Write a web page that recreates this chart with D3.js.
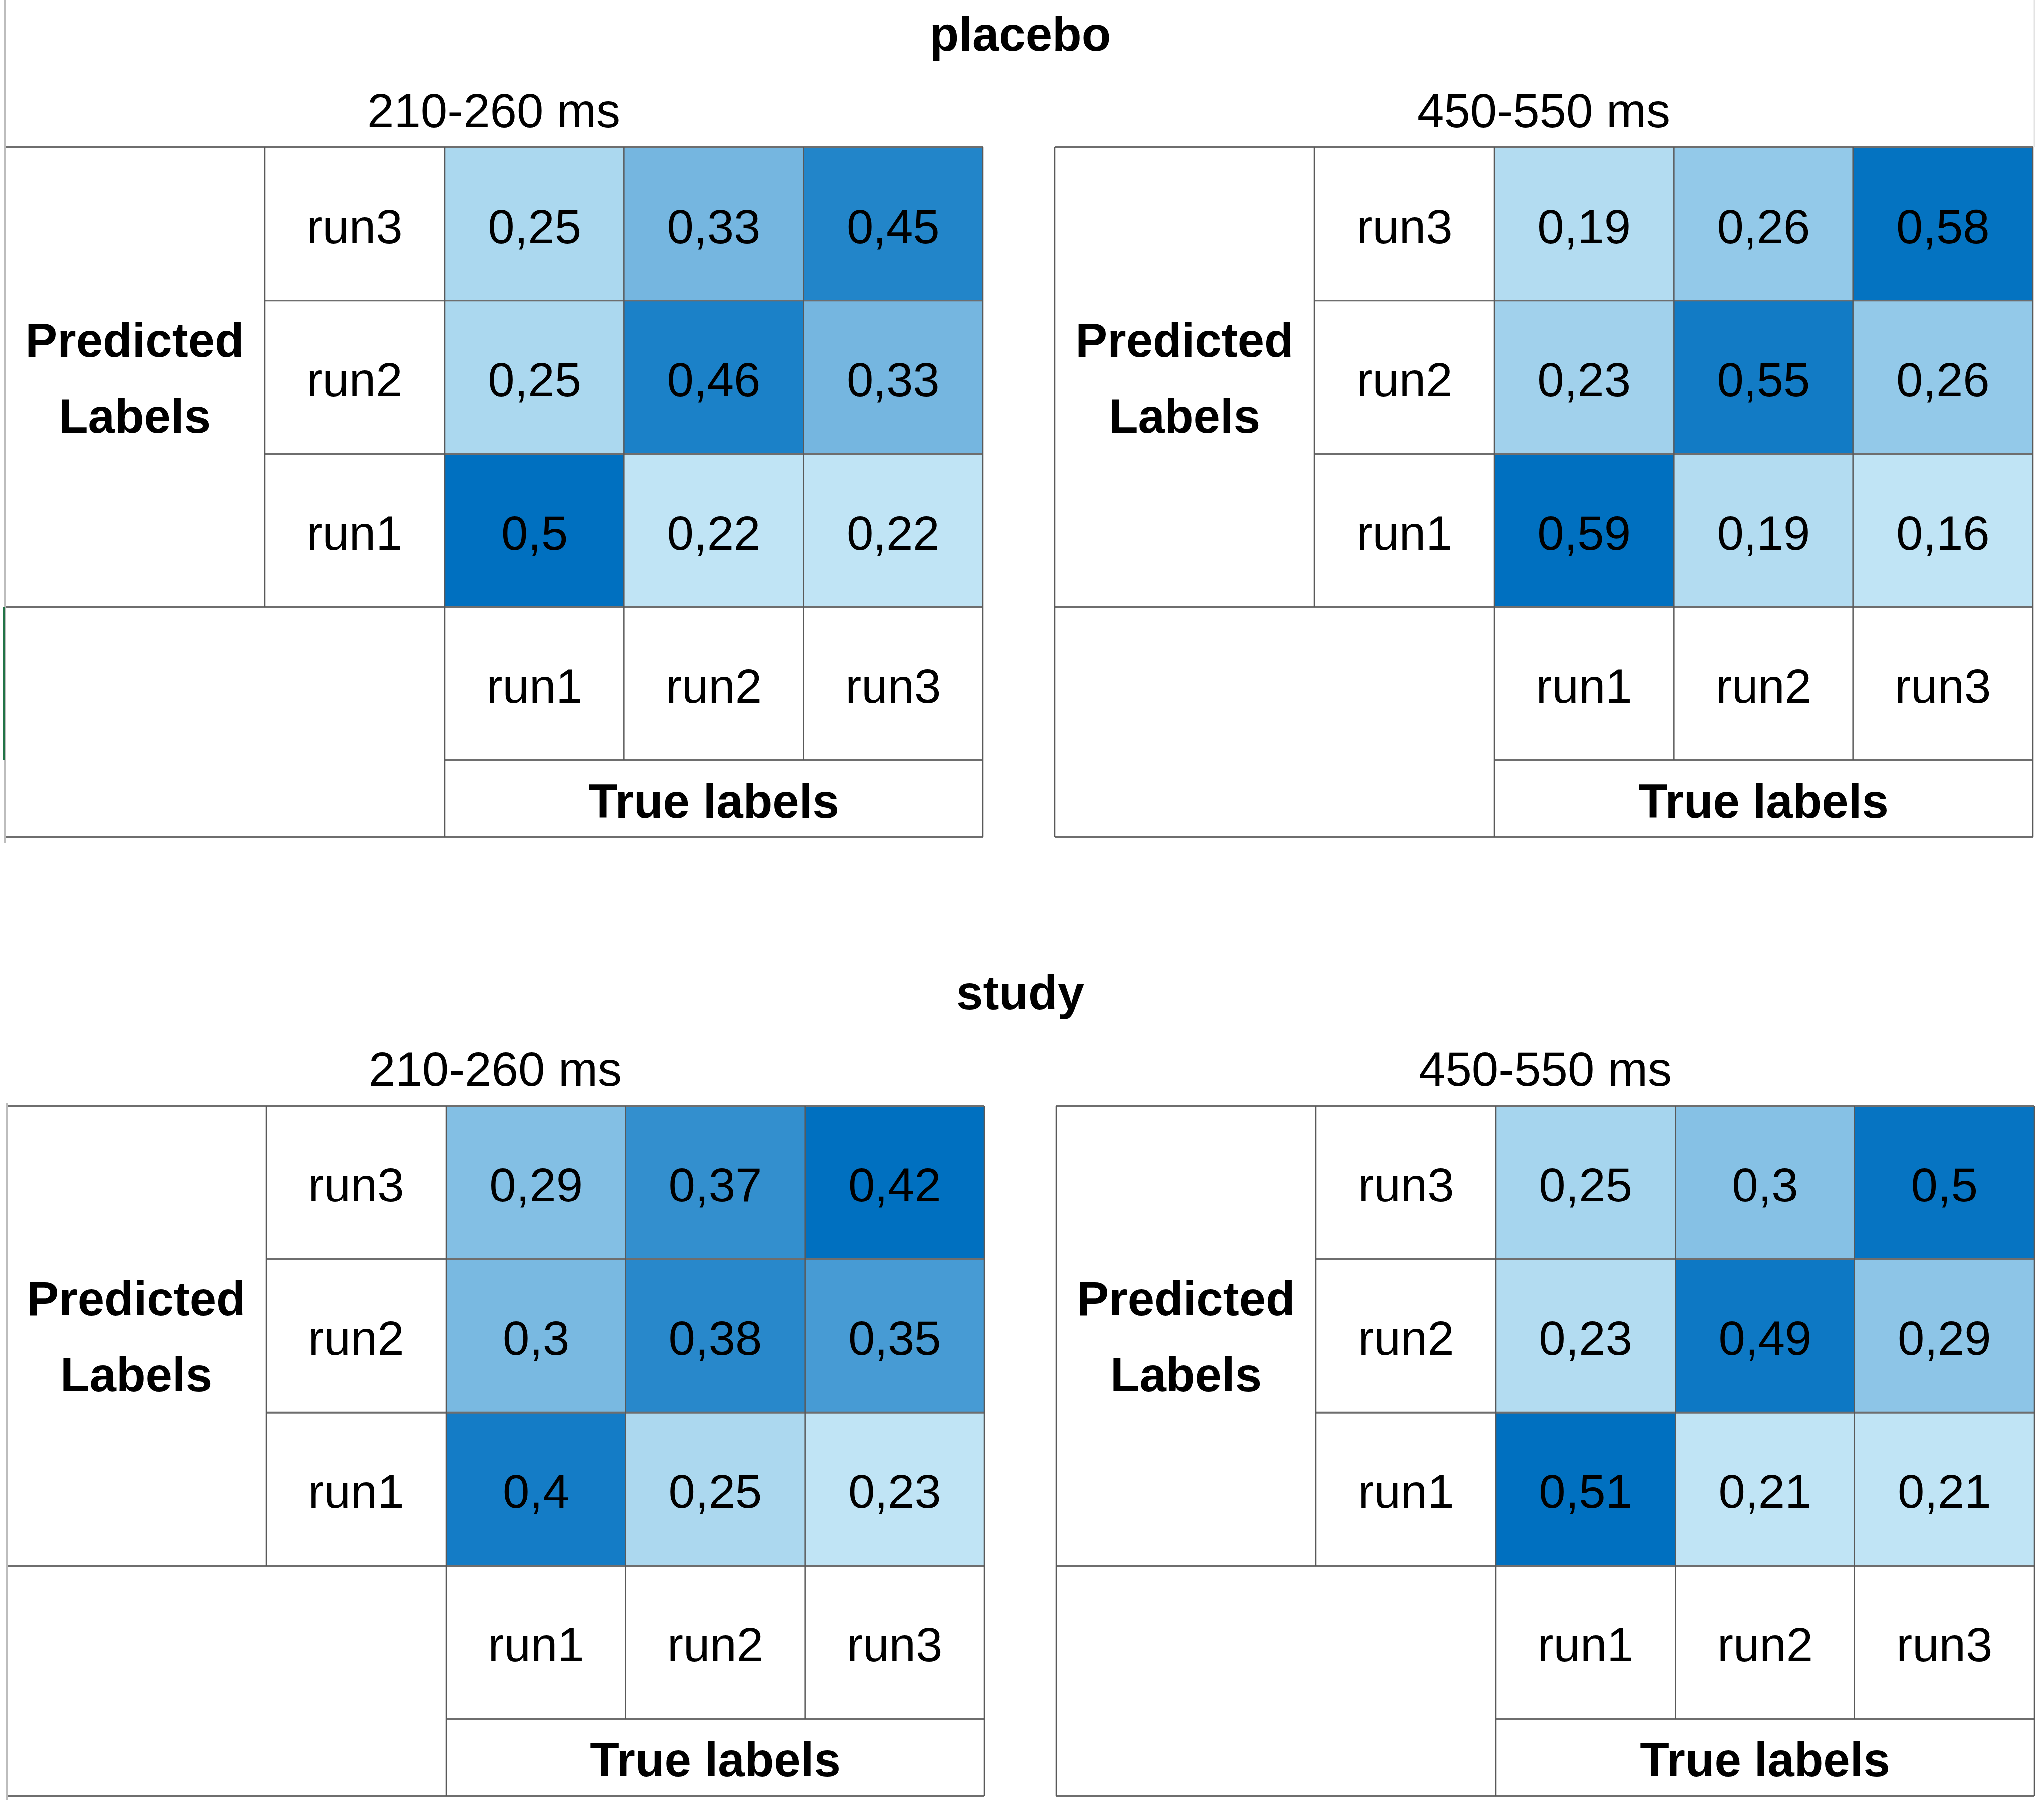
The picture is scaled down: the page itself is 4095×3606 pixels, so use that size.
<!DOCTYPE html>
<html lang="en">
<head>
    <meta charset="UTF-8">
    <script src="https://d3js.org/d3.v7.min.js"></script>
    <title>Confusion matrices: placebo / study</title>
    <style>
        body {
            margin: 0;
            padding: 0;
            background-color: white;
        }
        svg {
            display: block;
            font-family: "Liberation Sans", Arial, sans-serif;
        }
        .cell-text { font-size: 96px; fill: #000; text-anchor: middle; }
        .bold { font-weight: bold; }
    </style>
</head>
<body>
    <svg id="chart" width="4095" height="3606"></svg>
    <script>
        // data
        const groups = ["placebo", "study"];
        const windows = ["210-260 ms", "450-550 ms"];
        const predLabels = ["run3", "run2", "run1"]; // rows, top to bottom
        const trueLabels = ["run1", "run2", "run3"]; // columns, left to right

        const placeboEarly = [
            [0.25, 0.33, 0.45],
            [0.25, 0.46, 0.33],
            [0.5, 0.22, 0.22]
        ];
        const placeboLate = [
            [0.19, 0.26, 0.58],
            [0.23, 0.55, 0.26],
            [0.59, 0.19, 0.16]
        ];
        const studyEarly = [
            [0.29, 0.37, 0.42],
            [0.3, 0.38, 0.35],
            [0.4, 0.25, 0.23]
        ];
        const studyLate = [
            [0.25, 0.3, 0.5],
            [0.23, 0.49, 0.29],
            [0.51, 0.21, 0.21]
        ];

        const matrices = [[placeboEarly, placeboLate], [studyEarly, studyLate]];

        const svg = d3.select("#chart");
        const lineColor = "#595959";
        const fmt = v => String(v).replace(".", ",");

        // panel geometry (px)
        const panelX = [[10, 2113], [13, 2116]];
        const gridTop = [295, 2215];
        const labelColW = 520, runColEnd = 881, gridW = 1959;
        const matrixH = 922, colLabelH = 306, trueLabelH = 154;

        groups.forEach((g, gi) => {
            svg.append("text")
                .attr("class", "cell-text bold")
                .attr("x", 2044)
                .attr("y", gridTop[gi] - 193)
                .text(g);

            windows.forEach((w, wi) => {
                const x0 = panelX[gi][wi];
                const y0 = gridTop[gi];
                const data = matrices[gi][wi];
                const p = svg.append("g").attr("transform", `translate(${x0},${y0})`);

                const x = d3.scaleBand().domain(trueLabels).range([runColEnd, gridW]);
                const y = d3.scaleBand().domain(predLabels).range([0, matrixH]);
                const flat = data.flat();
                const color = d3.scaleLinear()
                    .domain(d3.extent(flat))
                    .range(["#C0E4F5", "#0070C0"])
                    .interpolate(d3.interpolateRgb);

                const cells = [];
                predLabels.forEach((r, ri) => trueLabels.forEach((c, ci) => {
                    cells.push({ r, c, v: data[ri][ci] });
                }));

                p.selectAll("rect.cell")
                    .data(cells)
                    .join("rect")
                    .attr("class", "cell")
                    .attr("x", d => x(d.c))
                    .attr("y", d => y(d.r))
                    .attr("width", x.bandwidth())
                    .attr("height", y.bandwidth())
                    .attr("fill", d => color(d.v));

                p.selectAll("text.val")
                    .data(cells)
                    .join("text")
                    .attr("class", "cell-text val")
                    .attr("x", d => x(d.c) + x.bandwidth() / 2)
                    .attr("y", d => y(d.r) + y.bandwidth() / 2 + 38)
                    .text(d => fmt(d.v));

                // row labels
                p.selectAll("text.rowlab")
                    .data(predLabels)
                    .join("text")
                    .attr("class", "cell-text rowlab")
                    .attr("x", (labelColW + runColEnd) / 2)
                    .attr("y", d => y(d) + y.bandwidth() / 2 + 38)
                    .text(d => d);

                // column labels
                p.selectAll("text.collab")
                    .data(trueLabels)
                    .join("text")
                    .attr("class", "cell-text collab")
                    .attr("x", d => x(d) + x.bandwidth() / 2)
                    .attr("y", matrixH + colLabelH / 2 + 38)
                    .text(d => d);

                p.append("text")
                    .attr("class", "cell-text bold")
                    .attr("x", (runColEnd + gridW) / 2)
                    .attr("y", matrixH + colLabelH + trueLabelH / 2 + 38)
                    .text("True labels");

                const pl = p.append("text")
                    .attr("class", "cell-text bold")
                    .attr("x", labelColW / 2);
                pl.append("tspan").attr("x", labelColW / 2).attr("y", matrixH / 2 - 41).text("Predicted");
                pl.append("tspan").attr("x", labelColW / 2).attr("y", matrixH / 2 + 111).text("Labels");

                // window title
                p.append("text")
                    .attr("class", "cell-text")
                    .attr("x", gridW / 2)
                    .attr("y", -40)
                    .text(w);

                // grid lines
                const bottom = matrixH + colLabelH + trueLabelH;
                const hLines = [
                    [0, gridW, 0],
                    [labelColW, gridW, y("run2")],
                    [labelColW, gridW, y("run1")],
                    [0, gridW, matrixH],
                    [runColEnd, gridW, matrixH + colLabelH],
                    [0, gridW, bottom]
                ];
                const vLines = [
                    [0, 0, bottom],
                    [labelColW, 0, matrixH],
                    [runColEnd, 0, bottom],
                    [x("run2"), 0, matrixH + colLabelH],
                    [x("run3"), 0, matrixH + colLabelH],
                    [gridW, 0, bottom]
                ];
                p.selectAll("line.h")
                    .data(hLines)
                    .join("line")
                    .attr("class", "h")
                    .attr("x1", d => d[0]).attr("x2", d => d[1])
                    .attr("y1", d => d[2]).attr("y2", d => d[2])
                    .attr("stroke", "#6e6e6e")
                    .attr("stroke-width", 4);
                p.selectAll("line.v")
                    .data(vLines.filter((d, i) => !(i === 0 && wi === 0)))
                    .join("line")
                    .attr("class", "v")
                    .attr("x1", d => d[0]).attr("x2", d => d[0])
                    .attr("y1", d => d[1]).attr("y2", d => d[2])
                    .attr("stroke", lineColor)
                    .attr("stroke-width", 2.5);
            });
        });

        // light sheet edges on the left-hand panels
        svg.append("line")
            .attr("x1", 10).attr("x2", 10).attr("y1", 0).attr("y2", 1688)
            .attr("stroke", "#bdbdbd").attr("stroke-width", 4);
        svg.append("line")
            .attr("x1", 14).attr("x2", 14).attr("y1", 2210).attr("y2", 3606)
            .attr("stroke", "#bdbdbd").attr("stroke-width", 4);
        svg.append("line")
            .attr("x1", 4075).attr("x2", 4075).attr("y1", 0).attr("y2", 295)
            .attr("stroke", "#e3e3e3").attr("stroke-width", 3);
        // selected-cell marker
        svg.append("line")
            .attr("x1", 8).attr("x2", 8).attr("y1", 1217).attr("y2", 1523)
            .attr("stroke", "#217346").attr("stroke-width", 4);
    </script>
</body>
</html>
